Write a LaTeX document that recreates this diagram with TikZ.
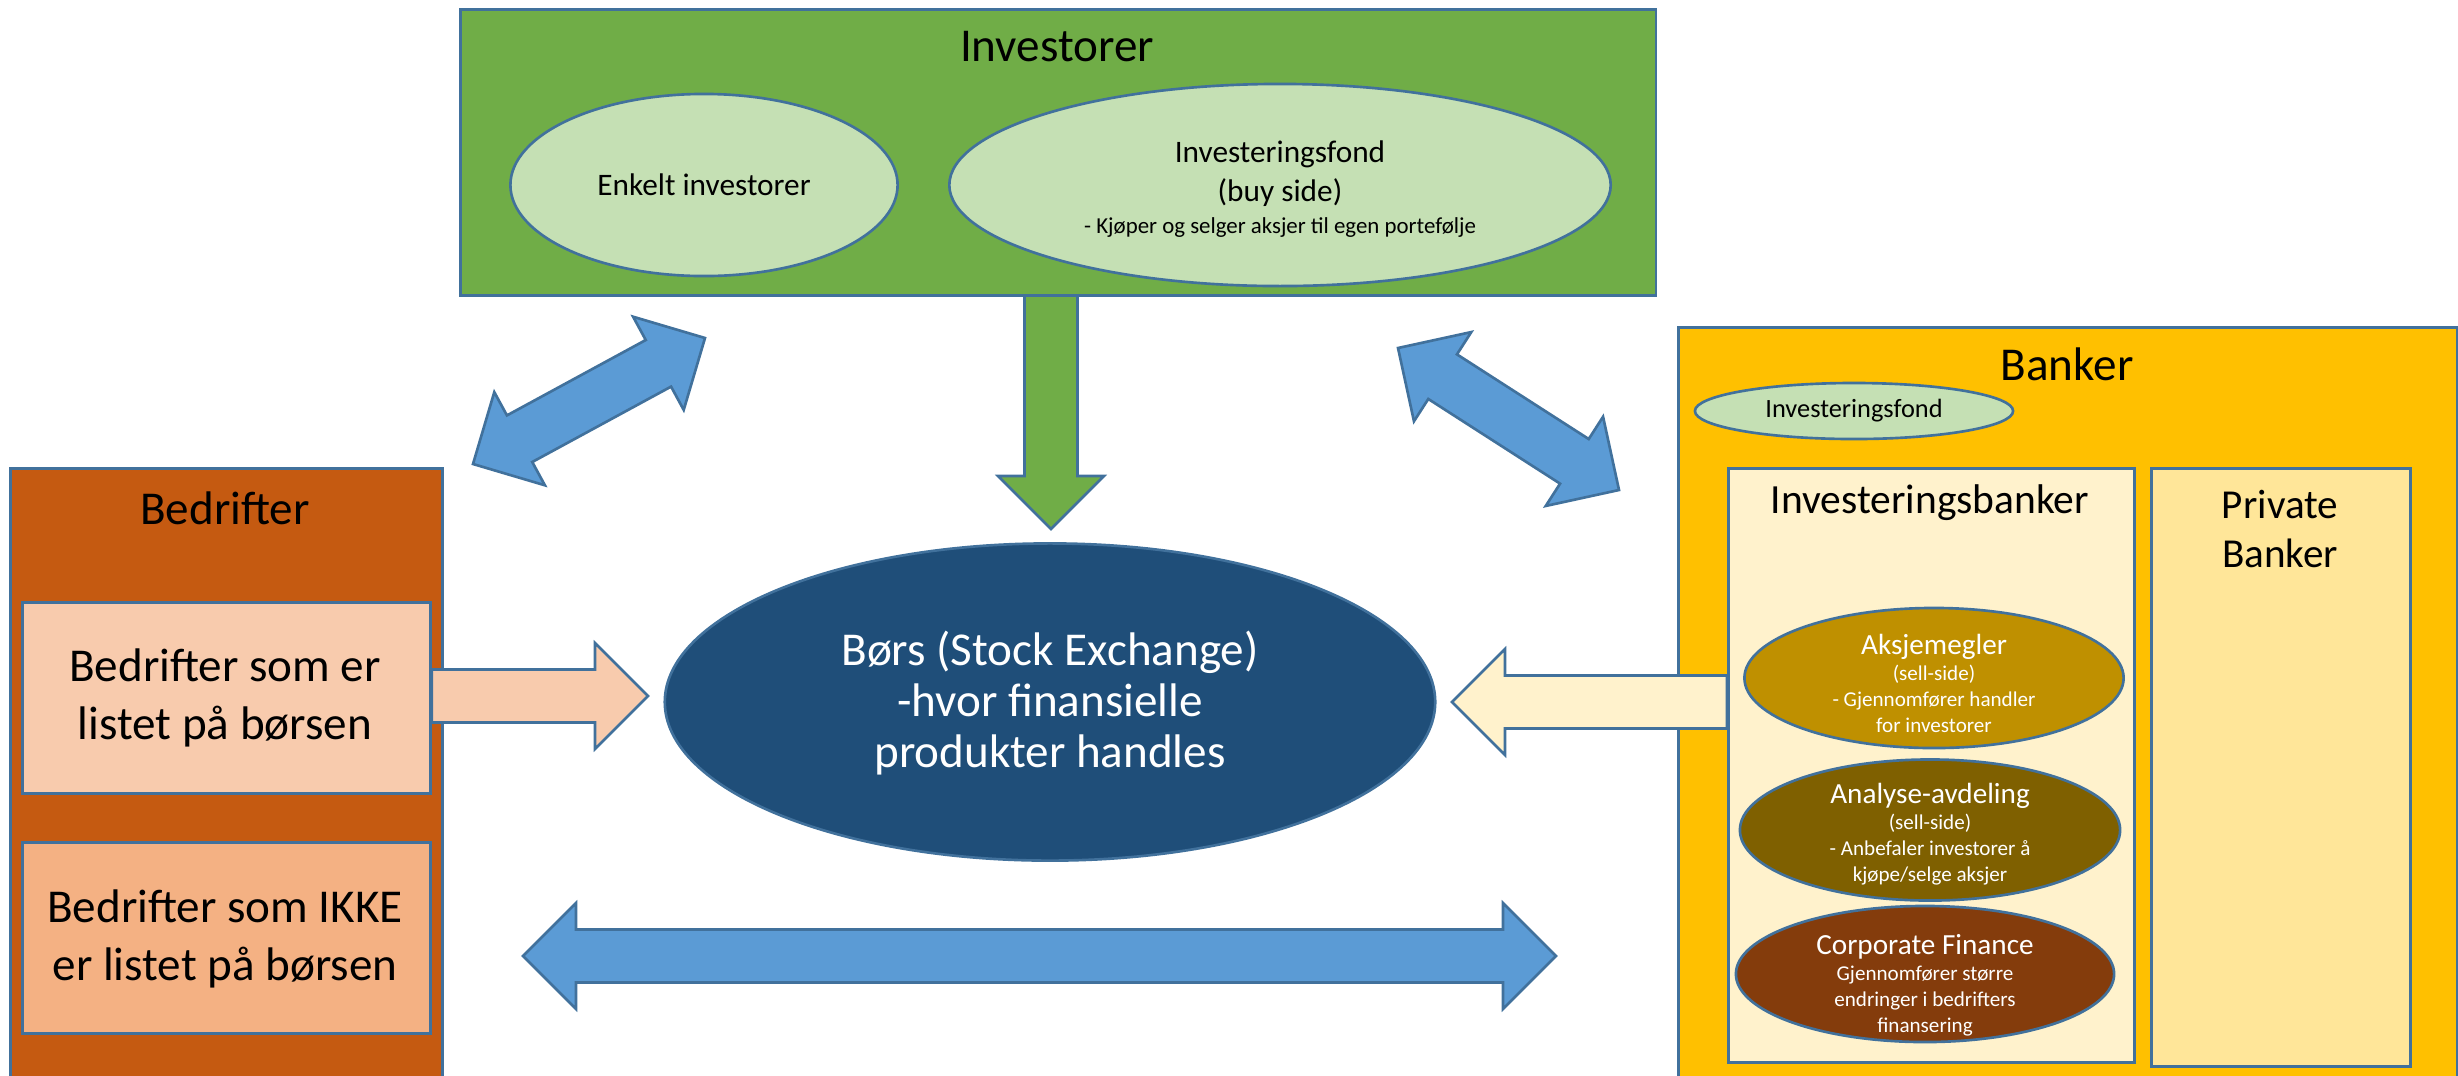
\documentclass[tikz,border=0pt]{standalone}
\usepackage{fontspec}
\setmainfont{Carlito}
\usetikzlibrary{shapes.geometric,calc}
\definecolor{olb}{HTML}{41719C}
\definecolor{grn}{HTML}{70AD47}
\definecolor{lgrn}{HTML}{C5E0B4}
\definecolor{blu}{HTML}{5B9BD5}
\definecolor{dblu}{HTML}{1F4E79}
\definecolor{rust}{HTML}{C55A11}
\definecolor{peach}{HTML}{F8CBAD}
\definecolor{peachb}{HTML}{F4B183}
\definecolor{gold}{HTML}{FFC000}
\definecolor{cream}{HTML}{FFF2CC}
\definecolor{ylw}{HTML}{FFE699}
\definecolor{ochre}{HTML}{BF9000}
\definecolor{olivd}{HTML}{7F6000}
\definecolor{brn}{HTML}{843C0C}
% double block arrow: style, A, B, prefix
\newcommand{\blockdouble}[4]{%
 \coordinate (#4ha) at ($(#2)!0.53cm!(#3)$);
 \coordinate (#4hb) at ($(#3)!0.53cm!(#2)$);
 \draw[#1] (#2) -- ($(#4ha)!0.53cm!90:(#3)$) -- ($(#4ha)!0.265cm!90:(#3)$)
  -- ($(#4hb)!0.265cm!-90:(#2)$) -- ($(#4hb)!0.53cm!-90:(#2)$) -- (#3)
  -- ($(#4hb)!0.53cm!90:(#2)$) -- ($(#4hb)!0.265cm!90:(#2)$)
  -- ($(#4ha)!0.265cm!-90:(#3)$) -- ($(#4ha)!0.53cm!-90:(#3)$) -- cycle;}
% single block arrow: style, tail, tip, prefix
\newcommand{\blocksingle}[4]{%
 \coordinate (#4h) at ($(#3)!0.53cm!(#2)$);
 \draw[#1] ($(#2)!0.265cm!90:(#3)$) -- ($(#4h)!0.265cm!-90:(#2)$)
  -- ($(#4h)!0.53cm!-90:(#2)$) -- (#3) -- ($(#4h)!0.53cm!90:(#2)$)
  -- ($(#4h)!0.265cm!90:(#2)$) -- ($(#2)!0.265cm!-90:(#3)$) -- cycle;}
\begin{document}
\begin{tikzpicture}[x=0.01cm,y=-0.01cm,line width=0.75pt,
  box/.style={draw=olb,rectangle,inner sep=0pt,anchor=north west},
  oval/.style={draw=olb,ellipse,inner sep=0pt},
  big/.style={font=\fontsize{13.4}{16.3}\selectfont},
  mid/.style={font=\fontsize{8.9}{11}\selectfont},
  small/.style={align=center,text=white,font=\fontsize{6}{7.4}\selectfont},
  arr/.style={draw=olb,line join=miter}]
\useasboundingbox (0,0) rectangle (2458,1075);
\clip (0,0) rectangle (2458,1075);

% ---------- Investorer ----------
\coordinate (gtip) at (1051,529);
\coordinate (gtail) at (1051,290);
\blocksingle{arr,fill=grn}{gtail}{gtip}{g}
\node[box,fill=grn,minimum width=11.95cm,minimum height=2.86cm] (inv) at (459,8) {};
\node[big] (invt) at (1057,47) {Investorer};
\node[oval,fill=lgrn,minimum width=3.87cm,minimum height=1.82cm] (enk) at (704,185) {};
\node[mid] (enkt) at (enk) {Enkelt investorer};
\node[oval,fill=lgrn,minimum width=6.61cm,minimum height=2.02cm] (ifond) at (1280,185) {};
\node[mid,align=center] (ifondt) at (1280,189) {Investeringsfond\\(buy side)\\[-2pt]{\fontsize{6.5}{8}\selectfont - Kjøper og selger aksjer til egen portefølje}};

% ---------- Bedrifter ----------
\node[box,fill=rust,minimum width=4.32cm,minimum height=6.3cm] (bed) at (9,467) {};
\node[big] (bedt) at (225,508) {Bedrifter};
\node[box,fill=peach,minimum width=4.08cm,minimum height=1.91cm] (bed1) at (21,601) {};
\node[big,align=center] (bed1t) at (225,698) {Bedrifter som er\\listet på børsen};
\node[box,fill=peachb,minimum width=4.08cm,minimum height=1.91cm] (bed2) at (21,841) {};
\node[big,align=center] (bed2t) at (225,939) {Bedrifter som IKKE\\er listet på børsen};
\coordinate (ptip) at (648,696);
\coordinate (ptail) at (bed1.east |- ptip);
\blocksingle{arr,fill=peach}{ptail}{ptip}{p}

% ---------- Bors ----------
\node[oval,fill=dblu,minimum width=7.7cm,minimum height=3.17cm] (bors) at (1050,702) {};
\node[align=center,text=white,font=\fontsize{13.4}{14.5}\selectfont] (borst) at (1050,703) {Børs (Stock Exchange)\\-hvor finansielle\\produkter handles};

% ---------- Banker ----------
\node[box,fill=gold,minimum width=7.79cm,minimum height=7.6cm] (bank) at (1677,326) {};
\node[big] (bankt) at (2067,364) {Banker};
\node[oval,fill=lgrn,minimum width=3.18cm,minimum height=0.56cm] (bfond) at (1854,411) {};
\node[font=\fontsize{7.5}{9}\selectfont] (bfondt) at (bfond) {Investeringsfond};
\node[box,fill=cream,minimum width=4.06cm,minimum height=5.94cm] (ibank) at (1727,467) {};
\node[font=\fontsize{11.8}{14}\selectfont] (ibankt) at (1930,503) {Investeringsbanker};
\node[box,fill=ylw,minimum width=2.59cm,minimum height=5.98cm] (pbank) at (2150,467) {};
\node[align=center,font=\fontsize{11.7}{13.7}\selectfont] (pbankt) at (2280,529) {Private\\Banker};
\node[oval,fill=ochre,minimum width=3.79cm,minimum height=1.4cm] (aksje) at (1934,678) {};
\node[small] (aksjet) at (1934,683) {{\fontsize{8.3}{10}\selectfont Aksjemegler}\\(sell-side)\\- Gjennomfører handler\\for investorer};
\node[oval,fill=olivd,minimum width=3.8cm,minimum height=1.41cm] (anal) at (1930,830) {};
\node[small] (analt) at (1930,834) {{\fontsize{8.3}{10}\selectfont Analyse-avdeling}\\(sell-side)\\- Anbefaler investorer å\\kjøpe/selge aksjer};
\node[oval,fill=brn,minimum width=3.78cm,minimum height=1.36cm] (corp) at (1925,974) {};
\node[small] (corpt) at (1925,985) {{\fontsize{8.3}{10}\selectfont Corporate Finance}\\Gjennomfører større\\endringer i bedrifters\\finansering};
\coordinate (ctip) at (1452,702);
\coordinate (ctail) at (ibank.west |- ctip);
\blocksingle{arr,fill=cream}{ctail}{ctip}{c}

% ---------- blue double arrows ----------
\coordinate (tlA) at (473,464);
\coordinate (tlB) at (705,338);
\blockdouble{arr,fill=blu}{tlA}{tlB}{tl}
\coordinate (trA) at (1398,348);
\coordinate (trB) at (1619,490);
\blockdouble{arr,fill=blu}{trA}{trB}{tr}
\coordinate (btA) at (523,956);
\coordinate (btB) at (1556,956);
\blockdouble{arr,fill=blu}{btA}{btB}{bt}
\end{tikzpicture}
\end{document}
